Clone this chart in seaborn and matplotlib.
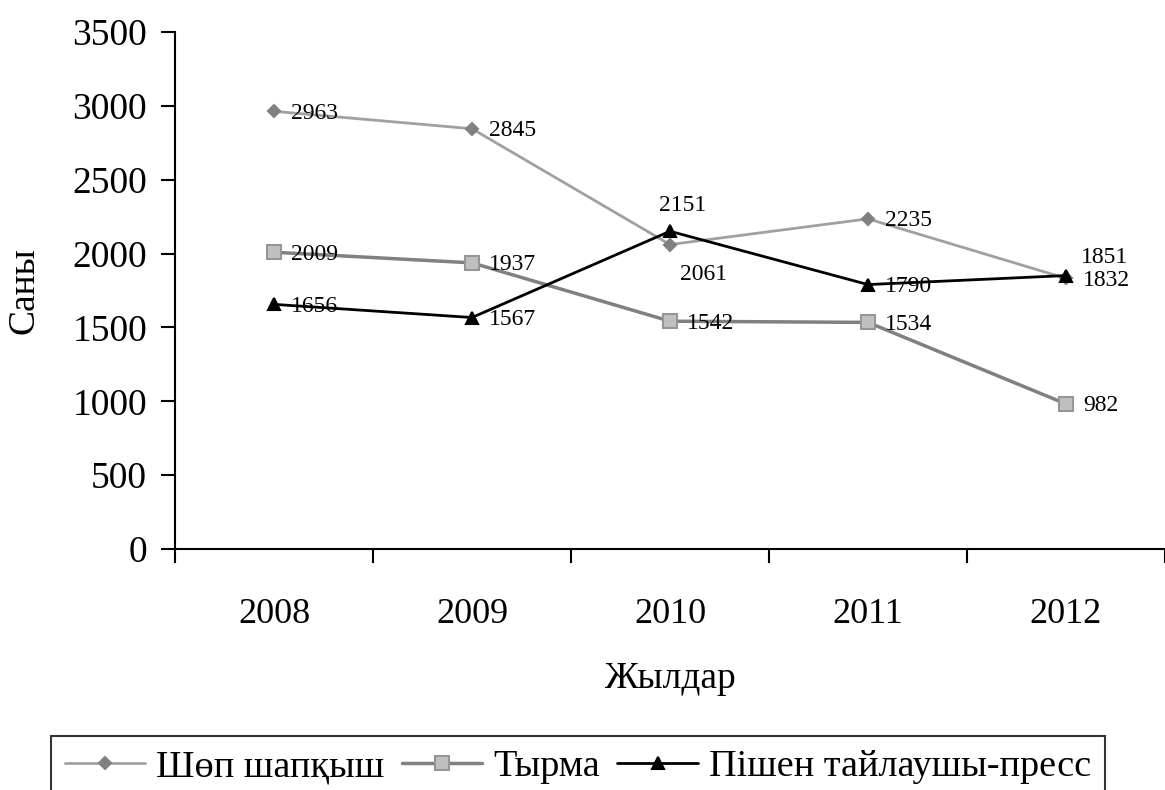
import matplotlib
matplotlib.use("Agg")
import pandas as pd
import numpy as np
import seaborn as sns
import matplotlib.pyplot as plt

years = ["2008", "2009", "2010", "2011", "2012"]
shop = [2963, 2845, 2061, 2235, 1832]
tyrma = [2009, 1937, 1542, 1534, 982]
press = [1656, 1567, 2151, 1790, 1851]

names = ["Шөп шапқыш", "Тырма", "Пішен тайлаушы-пресс"]

sns.set_theme(style="white")
plt.rcParams["font.family"] = ["Liberation Serif", "DejaVu Serif"]
plt.rcParams["text.color"] = "black"
plt.rcParams["axes.labelcolor"] = "black"
plt.rcParams["xtick.color"] = "black"
plt.rcParams["ytick.color"] = "black"

fig = plt.figure(figsize=(11.65, 7.9), dpi=100)
ax = fig.add_axes([0.1502, 0.3051, 0.8498, 0.6544])

x = np.arange(len(years))

# series styles
styles = [
    dict(color="#A0A0A0", lw=2.0, marker="D", ms=7, mfc="#808080", mec="#808080"),
    dict(color="#808080", lw=2.5, marker="s", ms=12, mfc="#C0C0C0", mec="#969696"),
    dict(color="black", lw=2.0, marker="^", ms=11, mfc="black", mec="black"),
]

for name, vals, st in zip(names, [shop, tyrma, press], styles):
    sns.lineplot(x=x, y=vals, ax=ax, label=name, color=st["color"], linewidth=st["lw"],
                 marker=st["marker"], markersize=st["ms"], markerfacecolor=st["mfc"],
                 markeredgecolor=st["mec"], markeredgewidth=1.5)

# data labels (pixel offsets from the point)
special = {("press", 2): (13, 26, "center"), ("shop", 2): (10, -30, "left"),
           ("press", 4): (15, 18, "left")}
for key, vals in [("shop", shop), ("tyrma", tyrma), ("press", press)]:
    for i, v in enumerate(vals):
        dx, dy, ha = special.get((key, i), (17, -2, "left"))
        ax.annotate(str(v), (x[i], v), xytext=(dx, dy), textcoords="offset pixels",
                    ha=ha, va="center", fontsize=17, color="black")

ax.set_xlim(-0.5, 4.5)
ax.set_ylim(0, 3500)
ax.set_yticks(range(0, 3501, 500))
ax.set_xticks(x)
ax.set_xticklabels(years)
ax.set_xticks(np.arange(-0.5, 5, 1), minor=True)
ax.tick_params(axis="x", which="major", length=0, pad=35, labelsize=26)
ax.tick_params(axis="x", which="minor", length=10, width=1.5, direction="out", color="black")
ax.tick_params(axis="y", length=10, width=1.5, direction="out", color="black", labelsize=27, pad=10)
ax.xaxis.set_tick_params(bottom=True, which="both")
ax.yaxis.set_tick_params(left=True)

for s in ["top", "right"]:
    ax.spines[s].set_visible(False)
for s in ["left", "bottom"]:
    ax.spines[s].set_color("black")
    ax.spines[s].set_linewidth(1.5)

ax.set_ylabel("Саны", fontsize=27, labelpad=22)
ax.set_xlabel("Жылдар", fontsize=27, labelpad=22)

ax.legend_.remove()
handles, labels = ax.get_legend_handles_labels()
for h in handles:
    h.set_markersize(h.get_markersize() * 0.85)
leg = fig.legend(handles, labels, loc="upper center", bbox_to_anchor=(578 / 1165, 1 - 736 / 790),
                 ncol=3, fontsize=27.5, frameon=True, fancybox=False, edgecolor="black",
                 handlelength=2.1, handletextpad=0.3, columnspacing=0.45, borderpad=0.35,
                 borderaxespad=0)
leg.get_frame().set_linewidth(1.5)

fig.savefig("out.png", dpi=100)
